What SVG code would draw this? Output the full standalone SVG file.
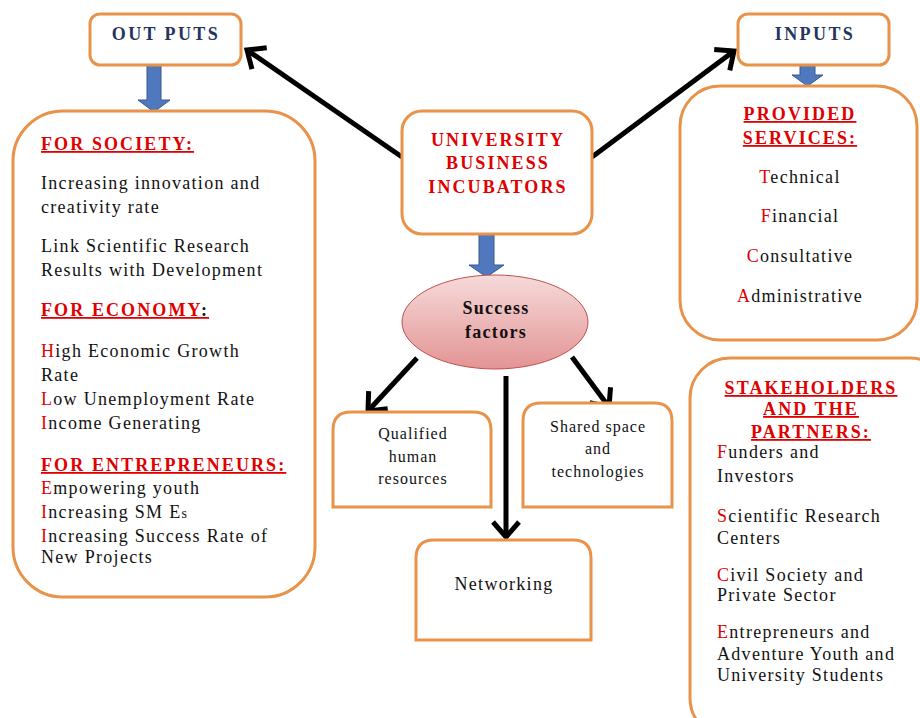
<svg xmlns="http://www.w3.org/2000/svg" width="920" height="718" viewBox="0 0 920 718">
<style>
.box{fill:#fff;stroke:#E8924A;stroke-width:3}
.t{font-family:"Liberation Serif","Times New Roman",serif;font-size:18px;letter-spacing:1.3px;fill:#111}
.h{font-family:"Liberation Serif","Times New Roman",serif;font-size:18px;letter-spacing:2.1px;font-weight:bold;fill:#E00000;text-decoration:underline}
.u{text-decoration:none}
.r{fill:#E00000}
.k{fill:#111}
.nv{font-family:"Liberation Serif","Times New Roman",serif;font-size:18px;font-weight:bold;fill:#23355E;letter-spacing:2.4px}
.s{font-size:16px;letter-spacing:1px}
.c{text-anchor:middle}
.blk{stroke:#000;stroke-width:5;fill:none;marker-end:url(#ah)}
.blue{fill:#4F78BE;stroke:#37598F;stroke-width:1}
</style>
<defs>
<marker id="ah" markerWidth="6" markerHeight="7" refX="3.6" refY="3.2" orient="auto" markerUnits="strokeWidth"><path d="M0.6,0.6 L3.6,3.2 L0.6,5.8" fill="none" stroke="#000" stroke-width="1"/></marker>
<linearGradient id="eg" x1="0" y1="0" x2="0" y2="1"><stop offset="0" stop-color="#F6DADA"/><stop offset="1" stop-color="#E39494"/></linearGradient>
</defs>
<g id="connectors">
<path class="blk" d="M402,157 L247,50"/>
<path class="blk" d="M592,157 L734,51"/>
<path class="blk" d="M417,358 L368,411"/>
<path class="blk" d="M572,357 L609,407"/>
<path class="blk" d="M506,376 L506,537"/>
<path class="blue" d="M147,65 H161 V100 H170 L154,112 L138,100 H147 Z"/>
<path class="blue" d="M800,65 H815 V75 H823 L807.5,86 L792,75 H800 Z"/>
<path class="blue" d="M479,234 H494 V265 H504 L486.5,277 L469,265 H479 Z"/>
</g>
<g id="outputs">
<rect class="box" x="90" y="14" width="151" height="51" rx="10"/>
<text class="nv c" x="166" y="40">OUT PUTS</text>
</g>
<g id="inputs">
<rect class="box" x="738" y="14" width="151" height="51" rx="10"/>
<text class="nv c" x="815" y="40">INPUTS</text>
</g>
<g id="outputs-detail">
<rect class="box" x="13" y="111" width="302" height="486" rx="50"/>
<text class="h" x="41" y="150">FOR SOCIETY:</text>
<text class="t" x="41" y="189">Increasing innovation and</text>
<text class="t" x="41" y="213">creativity rate</text>
<text class="t" x="41" y="252">Link Scientific Research</text>
<text class="t" x="41" y="276">Results with Development</text>
<text class="h" x="41" y="316">FOR ECONOMY<tspan class="k u">:</tspan></text>
<text class="t" x="41" y="357"><tspan class="r">H</tspan>igh Economic Growth</text>
<text class="t" x="41" y="381">Rate</text>
<text class="t" x="41" y="405"><tspan class="r">L</tspan>ow Unemployment Rate</text>
<text class="t" x="41" y="429"><tspan class="r">I</tspan>ncome Generating</text>
<text class="h" x="41" y="471">FOR ENTREPRENEURS:</text>
<text class="t" x="41" y="494"><tspan class="r">E</tspan>mpowering youth</text>
<text class="t" x="41" y="518"><tspan class="r">I</tspan>ncreasing SM E<tspan font-size="14">s</tspan></text>
<text class="t" x="41" y="542"><tspan class="r">I</tspan>ncreasing Success Rate of</text>
<text class="t" x="41" y="563">New Projects</text>
</g>
<g id="ubi">
<rect class="box" x="402" y="111" width="190" height="123" rx="20"/>
<text class="h c u" x="498" y="146">UNIVERSITY</text>
<text class="h c u" x="498" y="169">BUSINESS</text>
<text class="h c u" x="498" y="193">INCUBATORS</text>
</g>
<g id="services">
<rect class="box" x="680" y="86" width="237" height="254" rx="40"/>
<text class="h c" x="800" y="120">PROVIDED</text>
<text class="h c" x="800" y="144">SERVICES:</text>
<text class="t c" x="800" y="183"><tspan class="r">T</tspan>echnical</text>
<text class="t c" x="800" y="222"><tspan class="r">F</tspan>inancial</text>
<text class="t c" x="800" y="262"><tspan class="r">C</tspan>onsultative</text>
<text class="t c" x="800" y="302"><tspan class="r">A</tspan>dministrative</text>
</g>
<g id="success">
<ellipse cx="495" cy="322" rx="93" ry="47" fill="url(#eg)" stroke="#C0504D" stroke-width="1"/>
<text class="t c" font-weight="bold" font-size="17" x="496" y="314">Success</text>
<text class="t c" font-weight="bold" font-size="17" x="496" y="338">factors</text>
</g>
<g id="qualified">
<path class="box" d="M333,507 V430 Q333,412 351,412 H473 Q491,412 491,430 V507 Z"/>
<text class="t s c" x="413" y="439">Qualified</text>
<text class="t s c" x="413" y="462">human</text>
<text class="t s c" x="413" y="484">resources</text>
</g>
<g id="shared">
<path class="box" d="M523,507 V421 Q523,403 541,403 H654 Q672,403 672,421 V507 Z"/>
<text class="t s c" x="598" y="432">Shared space</text>
<text class="t s c" x="598" y="454">and</text>
<text class="t s c" x="598" y="477">technologies</text>
</g>
<g id="networking">
<path class="box" d="M416,640 V558 Q416,540 434,540 H573 Q591,540 591,558 V640 Z"/>
<text class="t c" font-size="16" x="504" y="590">Networking</text>
</g>
<g id="stakeholders">
<rect class="box" x="690" y="358" width="260" height="380" rx="40"/>
<text class="h c" x="811" y="394">STAKEHOLDERS</text>
<text class="h c" x="811" y="415">AND THE</text>
<text class="h c" x="811" y="438">PARTNERS:</text>
<text class="t" x="717" y="458"><tspan class="r">F</tspan>unders and</text>
<text class="t" x="717" y="482">Investors</text>
<text class="t" x="717" y="522"><tspan class="r">S</tspan>cientific Research</text>
<text class="t" x="717" y="544">Centers</text>
<text class="t" x="717" y="581"><tspan class="r">C</tspan>ivil Society and</text>
<text class="t" x="717" y="601">Private Sector</text>
<text class="t" x="717" y="638"><tspan class="r">E</tspan>ntrepreneurs and</text>
<text class="t" x="717" y="660">Adventure Youth and</text>
<text class="t" x="717" y="681">University Students</text>
</g>
</svg>
